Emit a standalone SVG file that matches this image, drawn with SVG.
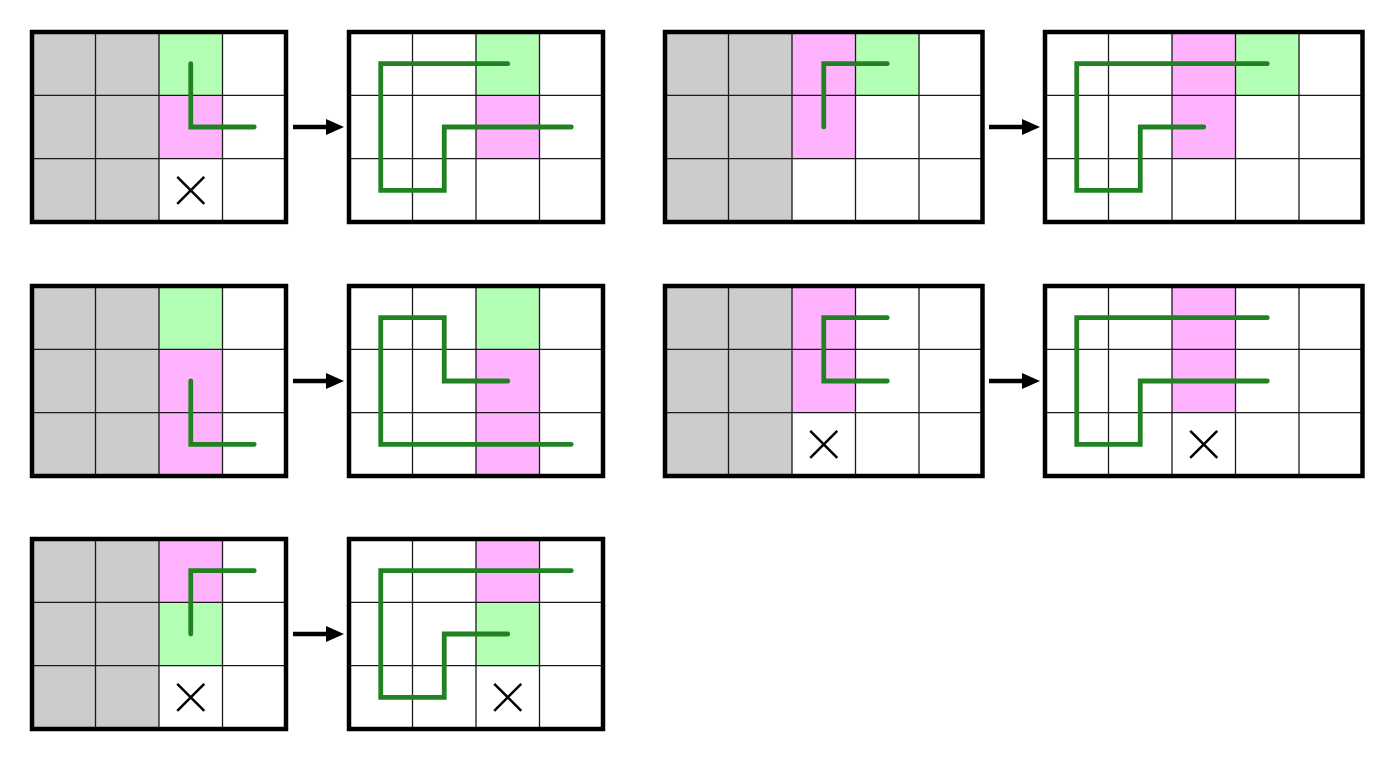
<svg xmlns="http://www.w3.org/2000/svg" width="1393" height="760" viewBox="0 0 1393 760">
<style>
.gray{fill:#cccccc}
.grn{fill:#b3ffb3}
.pnk{fill:#ffb3ff}
.in{stroke:#1a1a1a;stroke-width:1.3;fill:none}
.out{stroke:#000;stroke-width:4.5;fill:none}
.route{stroke:#228222;stroke-width:4.8;fill:none;stroke-linecap:round;stroke-linejoin:miter}
.x{stroke:#000;stroke-width:2.5;fill:none}
.arr{stroke:#000;stroke-width:4.5;fill:none}
</style>
<defs>
<path id="in4" d="M63.5,0V190M127,0V190M190.5,0V190M0,63.33H254M0,126.67H254"/>
<path id="in5" d="M63.5,0V190M127,0V190M190.5,0V190M254,0V190M0,63.33H317.5M0,126.67H317.5"/>
<path id="xm" d="M-13.5,-13.5L13.5,13.5M13.5,-13.5L-13.5,13.5"/>
<marker id="ah" markerWidth="18" markerHeight="16" refX="0" refY="8" orient="auto" markerUnits="userSpaceOnUse">
<path d="M0,0L18,8L0,16Z" fill="#000"/>
</marker>
</defs>
<rect width="1393" height="760" fill="#fff"/>

<g id="grid1" transform="translate(32,32)">
<rect class="gray" x="0" y="0" width="127" height="190"/>
<rect class="grn" x="127" y="0" width="63.5" height="63.33"/>
<rect class="pnk" x="127" y="63.33" width="63.5" height="63.34"/>
<use href="#in4" class="in"/>
<rect class="out" x="0" y="0" width="254" height="190"/>
<path class="route" d="M158.75,31.67V95H222.25"/>
<use href="#xm" class="x" x="158.75" y="158.33"/>
</g>

<g id="grid2" transform="translate(349,32)">
<rect class="grn" x="127" y="0" width="63.5" height="63.33"/>
<rect class="pnk" x="127" y="63.33" width="63.5" height="63.34"/>
<use href="#in4" class="in"/>
<rect class="out" x="0" y="0" width="254" height="190"/>
<path class="route" d="M158.75,31.67H31.75V158.33H95.25V95H222.25"/>
</g>

<g id="grid3" transform="translate(665,32)">
<rect class="gray" x="0" y="0" width="127" height="190"/>
<rect class="pnk" x="127" y="0" width="63.5" height="126.67"/>
<rect class="grn" x="190.5" y="0" width="63.5" height="63.33"/>
<use href="#in5" class="in"/>
<rect class="out" x="0" y="0" width="317.5" height="190"/>
<path class="route" d="M158.75,95V31.67H222.25"/>
</g>

<g id="grid4" transform="translate(1045,32)">
<rect class="pnk" x="127" y="0" width="63.5" height="126.67"/>
<rect class="grn" x="190.5" y="0" width="63.5" height="63.33"/>
<use href="#in5" class="in"/>
<rect class="out" x="0" y="0" width="317.5" height="190"/>
<path class="route" d="M222.25,31.67H31.75V158.33H95.25V95H158.75"/>
</g>

<g id="grid5" transform="translate(32,286)">
<rect class="gray" x="0" y="0" width="127" height="190"/>
<rect class="grn" x="127" y="0" width="63.5" height="63.33"/>
<rect class="pnk" x="127" y="63.33" width="63.5" height="126.67"/>
<use href="#in4" class="in"/>
<rect class="out" x="0" y="0" width="254" height="190"/>
<path class="route" d="M158.75,95V158.33H222.25"/>
</g>

<g id="grid6" transform="translate(349,286)">
<rect class="grn" x="127" y="0" width="63.5" height="63.33"/>
<rect class="pnk" x="127" y="63.33" width="63.5" height="126.67"/>
<use href="#in4" class="in"/>
<rect class="out" x="0" y="0" width="254" height="190"/>
<path class="route" d="M158.75,95H95.25V31.67H31.75V158.33H222.25"/>
</g>

<g id="grid7" transform="translate(665,286)">
<rect class="gray" x="0" y="0" width="127" height="190"/>
<rect class="pnk" x="127" y="0" width="63.5" height="126.67"/>
<use href="#in5" class="in"/>
<rect class="out" x="0" y="0" width="317.5" height="190"/>
<path class="route" d="M222.25,31.67H158.75V95H222.25"/>
<use href="#xm" class="x" x="158.75" y="158.33"/>
</g>

<g id="grid8" transform="translate(1045,286)">
<rect class="pnk" x="127" y="0" width="63.5" height="126.67"/>
<use href="#in5" class="in"/>
<rect class="out" x="0" y="0" width="317.5" height="190"/>
<path class="route" d="M222.25,31.67H31.75V158.33H95.25V95H222.25"/>
<use href="#xm" class="x" x="158.75" y="158.33"/>
</g>

<g id="grid9" transform="translate(32,539)">
<rect class="gray" x="0" y="0" width="127" height="190"/>
<rect class="pnk" x="127" y="0" width="63.5" height="63.33"/>
<rect class="grn" x="127" y="63.33" width="63.5" height="63.34"/>
<use href="#in4" class="in"/>
<rect class="out" x="0" y="0" width="254" height="190"/>
<path class="route" d="M222.25,31.67H158.75V95"/>
<use href="#xm" class="x" x="158.75" y="158.33"/>
</g>

<g id="grid10" transform="translate(349,539)">
<rect class="pnk" x="127" y="0" width="63.5" height="63.33"/>
<rect class="grn" x="127" y="63.33" width="63.5" height="63.34"/>
<use href="#in4" class="in"/>
<rect class="out" x="0" y="0" width="254" height="190"/>
<path class="route" d="M222.25,31.67H31.75V158.33H95.25V95H158.75"/>
<use href="#xm" class="x" x="158.75" y="158.33"/>
</g>

<g id="connectors">
<path class="arr" d="M293,127H326" marker-end="url(#ah)"/>
<path class="arr" d="M293,381H326" marker-end="url(#ah)"/>
<path class="arr" d="M293,634H326" marker-end="url(#ah)"/>
<path class="arr" d="M989,127H1022" marker-end="url(#ah)"/>
<path class="arr" d="M989,381H1022" marker-end="url(#ah)"/>
</g>
</svg>
